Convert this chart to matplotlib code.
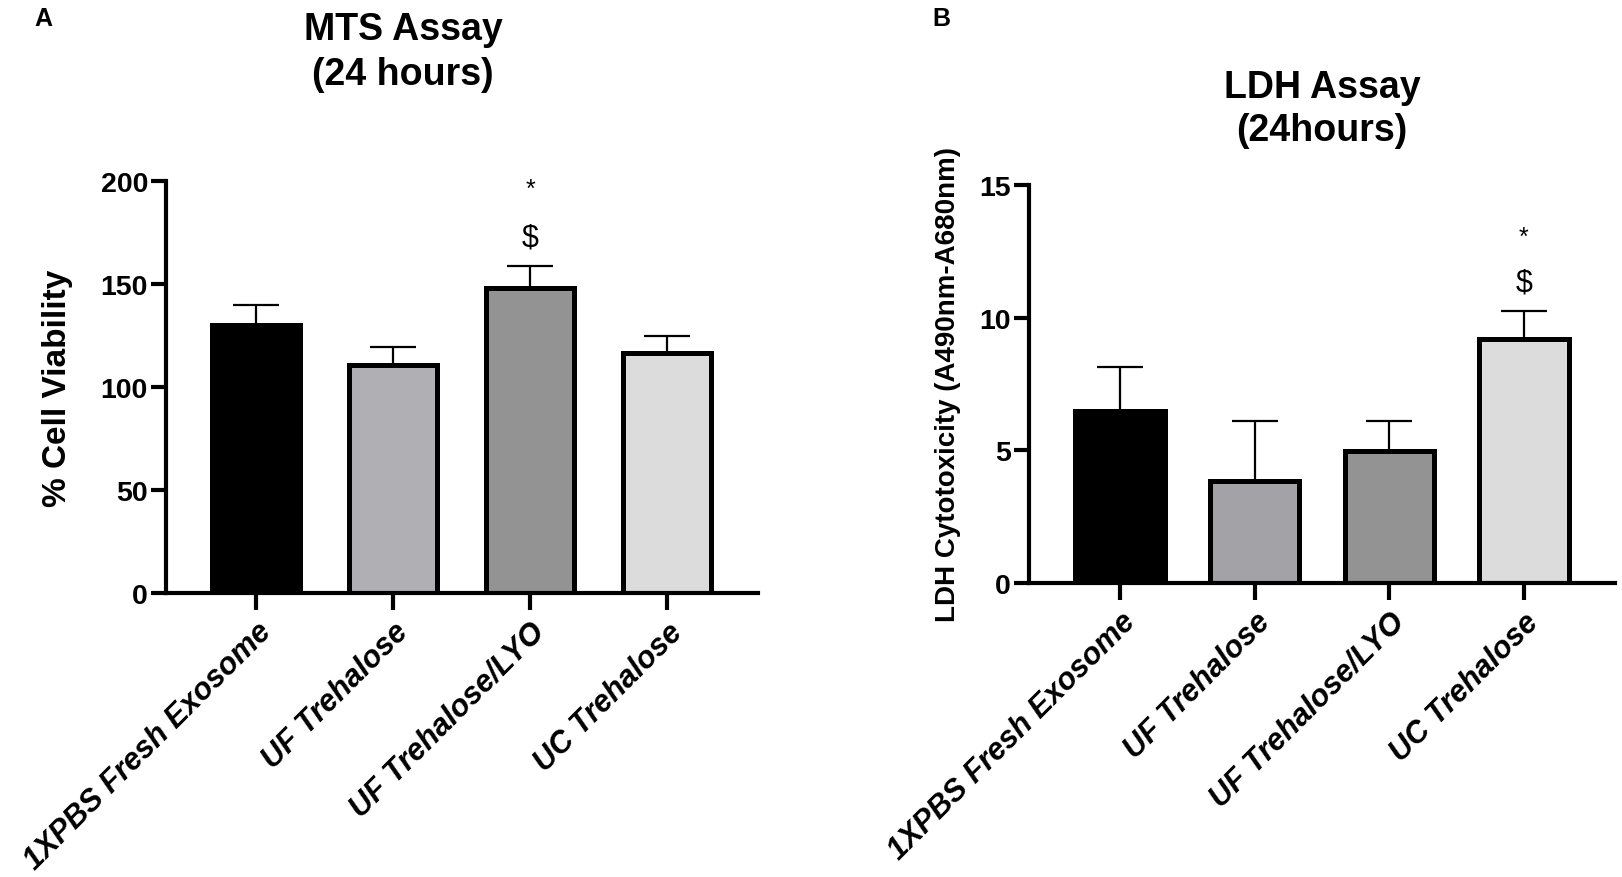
import matplotlib
matplotlib.use("Agg")
import matplotlib.pyplot as plt

groups = ["1XPBS Fresh Exosome", "UF Trehalose", "UF Trehalose/LYO", "UC Trehalose"]

mts_mean = [130, 110.5, 148, 116.5]
mts_err = [10, 9, 10.5, 8.5]

ldh_mean = [6.5, 3.85, 4.97, 9.2]
ldh_err = [1.65, 2.25, 1.12, 1.07]

colors_a = ["#000000", "#b0b0b4", "#939393", "#dcdcdc"]
colors_b = ["#000000", "#a3a3a7", "#939393", "#dcdcdc"]

title_a = ["MTS Assay", "(24 hours)"]
title_b = ["LDH Assay", "(24hours)"]

plt.rcParams["font.family"] = ["Liberation Sans", "DejaVu Sans"]

W, H = 1622, 878
fig = plt.figure(figsize=(W / 100, H / 100), dpi=100)


def px(x0, y0, x1, y1):
    # pixel box (top-left origin) -> figure fraction rect
    return [x0 / W, 1 - y1 / H, (x1 - x0) / W, (y1 - y0) / H]


def panel(rect, means, errs, colors, width, ylim, yticks, ylabel, ylabel_size, ylabel_x,
          marks, xlim):
    ax = fig.add_axes(rect)
    x = range(len(groups))
    ax.bar(x, means, width=width, color=colors, edgecolor="black", linewidth=3.6, zorder=2)
    ax.errorbar(x, means, yerr=[[0] * len(errs), errs], fmt="none", ecolor="black",
                elinewidth=1.6, capsize=16.5, capthick=1.6, zorder=1)
    ax.set_xlim(*xlim)
    ax.set_ylim(*ylim)
    ax.set_yticks(yticks)
    ax.set_xticks(list(x))
    ax.set_xticklabels(groups, rotation=45, ha="right", rotation_mode="anchor",
                       fontsize=22, fontweight="bold", fontstyle="italic")
    for lab in ax.get_yticklabels():
        lab.set_fontweight("bold")
        lab.set_fontsize(20.5)
    for side in ["top", "right"]:
        ax.spines[side].set_visible(False)
    ax.spines["left"].set_linewidth(3)
    ax.spines["bottom"].set_linewidth(3)
    ax.tick_params(axis="y", width=3, length=11, pad=2)
    ax.tick_params(axis="x", width=3, length=12, pad=5)
    ax.set_ylabel(ylabel, fontsize=ylabel_size, fontweight="bold")
    ax.yaxis.set_label_coords(ylabel_x, 0.5)
    idx, star_y, dollar_y = marks
    ax.text(idx, star_y, "*", ha="center", va="center", fontsize=18)
    ax.text(idx, dollar_y, "$", ha="center", va="center", fontsize=22)
    return ax


panel(px(166, 182, 758, 594), mts_mean, mts_err, colors_a, 0.64,
      (0, 200), [0, 50, 100, 150, 200], "% Cell Viability", 24, -0.157,
      (2, 196, 172.5), (-0.657, 3.664))

panel(px(1029, 186, 1615, 584), ldh_mean, ldh_err, colors_b, 0.665,
      (0, 15), [0, 5, 10, 15], "LDH Cytotoxicity (A490nm-A680nm)", 20, -0.116,
      (3, 13.04, 11.34), (-0.676, 3.676))

# titles, one text per line, placed on their baselines
for line, base in zip(title_a, [40, 85]):
    fig.text(403 / W, 1 - base / H, line, fontsize=27, fontweight="bold",
             ha="center", va="baseline")
for line, base in zip(title_b, [98, 141]):
    fig.text(1322 / W, 1 - base / H, line, fontsize=27, fontweight="bold",
             ha="center", va="baseline")

fig.text(43 / W, 1 - 19 / H, "A", fontsize=18, fontweight="bold", ha="center", va="center")
fig.text(941 / W, 1 - 19 / H, "B", fontsize=18, fontweight="bold", ha="center", va="center")

fig.savefig("out.png", dpi=100)
